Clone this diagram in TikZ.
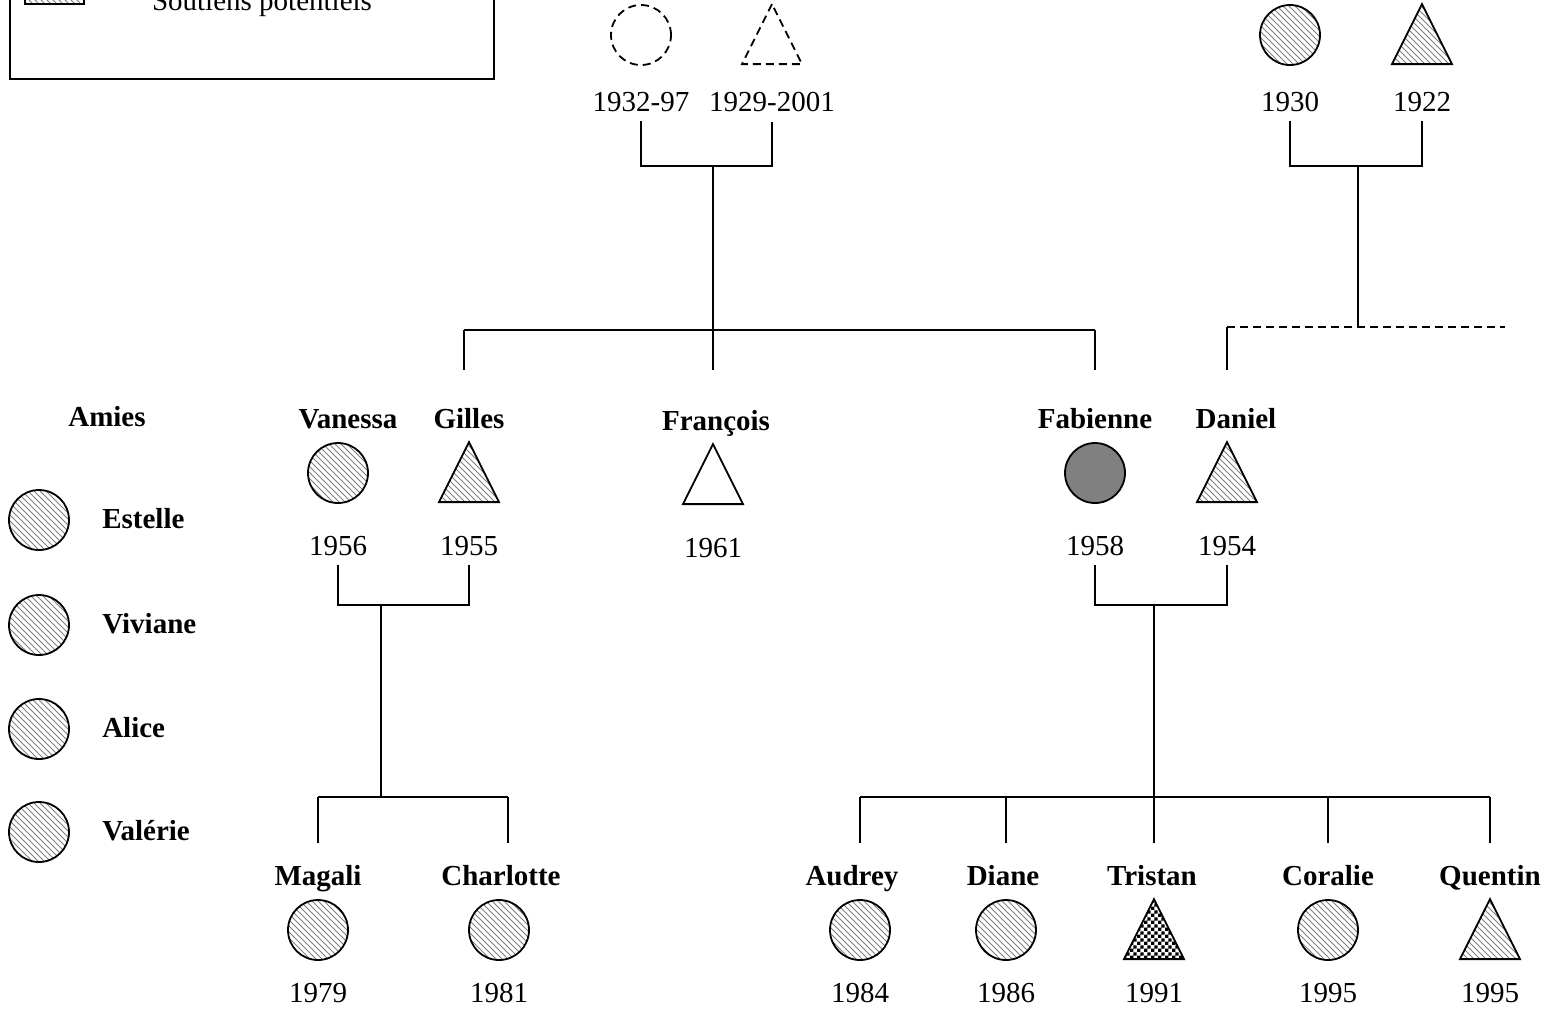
\documentclass[tikz,border=0pt]{standalone}
\usepackage{fontspec}
\setmainfont{Liberation Serif}
\usetikzlibrary{shapes.geometric,patterns,positioning}
\pgfdeclarepatternformonly{damier}{\pgfqpoint{0pt}{0pt}}{\pgfqpoint{3.6pt}{3.6pt}}{\pgfqpoint{3.6pt}{3.6pt}}{%
  \pgfpathrectangle{\pgfqpoint{0pt}{0pt}}{\pgfqpoint{1.8pt}{1.8pt}}%
  \pgfpathrectangle{\pgfqpoint{1.8pt}{1.8pt}}{\pgfqpoint{1.8pt}{1.8pt}}%
  \pgfusepath{fill}}

\begin{document}
\begin{tikzpicture}[x=0.5pt, y=-0.5pt, font=\fontsize{14.5}{17}\selectfont,
    femme/.style={circle, draw, line width=0.9pt, minimum size=30pt, inner sep=0pt},
    homme/.style={isosceles triangle, isosceles triangle stretches, shape border rotate=90,
        draw, line width=0.9pt, minimum width=30pt, minimum height=30pt, inner sep=0pt, anchor=south},
    soutien/.style={pattern=north west lines, pattern color=gray},
    decede/.style={dash pattern=on 4pt off 2.5pt},
    nom/.style={font=\fontsize{14.5}{17}\selectfont\bfseries, inner sep=0pt, text depth=0.25ex},
    annee/.style={inner sep=0pt, outer sep=5pt},
    lien/.style={line width=0.9pt}
]
    \useasboundingbox (0,0) rectangle (1544,1009);
    \clip (0,0) rectangle (1544,1009);

    % legende
    \draw[lien] (10,-60) rectangle (494,79);
    \draw[lien, soutien] (25,-30) rectangle (84,4);
    \node[anchor=base] (leg) at (262,10) {Soutiens potentiels};

    % grands-parents
    \node[femme, decede] (gm1) at (641,35) {};
    \node[homme, decede] (gp1) at (772,65) {};
    \node[annee, below=8pt of gm1] (gm1-an) {1932-97};
    \node[annee, below=8.5pt of gp1] (gp1-an) {1929-2001};
    \node[femme, soutien] (gm2) at (1290,35) {};
    \node[homme, soutien] (gp2) at (1422,65) {};
    \node[annee, below=8pt of gm2] (gm2-an) {1930};
    \node[annee, below=8.5pt of gp2] (gp2-an) {1922};

    \coordinate (u1) at (713,166);
    \coordinate (f1) at (713,330);
    \coordinate (u2) at (1358,166);
    \coordinate (f2) at (1358,327);
    \draw[lien] (gm1-an.south) -- (gm1-an.south |- u1) -| (gp1-an.south);
    \draw[lien] (gm2-an.south) -- (gm2-an.south |- u2) -| (gp2-an.south);
    \draw[lien] (u1) -- (f1);
    \draw[lien] (u2) -- (f2);

    % fratrie
    \coordinate (f1g) at (464,330);
    \coordinate (f1d) at (1095,330);
    \coordinate (f2g) at (1227,327);
    \coordinate (f2d) at (1505,327);
    \draw[lien] (f1g) -- (f1d);
    \draw[lien, dashed, dash pattern=on 4pt off 2.5pt] (f2g) -- (f2d);
    \draw[lien] (f1g) -- ++(0,40);
    \draw[lien] (f1) -- ++(0,40);
    \draw[lien] (f1d) -- ++(0,40);
    \draw[lien] (f2g) -- ++(0,43);

    % parents
    \node[femme, soutien] (vanessa) at (338,473) {};
    \node[homme, soutien] (gilles) at (469,503) {};
    \node[homme] (francois) at (713,505) {};
    \node[femme, fill=gray] (fabienne) at (1095,473) {};
    \node[homme, soutien] (daniel) at (1227,503) {};

    \node[nom, above=5.5pt of vanessa, xshift=5pt] {Vanessa};
    \node[nom, above=4.5pt of gilles] {Gilles};
    \node[nom, above=4.5pt of francois, xshift=1.5pt] {François};
    \node[nom, above=5.5pt of fabienne] {Fabienne};
    \node[nom, above=4.5pt of daniel, xshift=4.5pt] {Daniel};

    \node[annee, below=11pt of vanessa] (vanessa-an) {1956};
    \node[annee, below=11.5pt of gilles] (gilles-an) {1955};
    \node[annee, below=11.5pt of francois] (francois-an) {1961};
    \node[annee, below=11pt of fabienne] (fabienne-an) {1958};
    \node[annee, below=11.5pt of daniel] (daniel-an) {1954};

    \coordinate (u3) at (381,605);
    \coordinate (f3) at (381,797);
    \coordinate (u4) at (1154,605);
    \coordinate (f4) at (1154,797);
    \draw[lien] (vanessa-an.south) -- (vanessa-an.south |- u3) -| (gilles-an.south);
    \draw[lien] (fabienne-an.south) -- (fabienne-an.south |- u4) -| (daniel-an.south);
    \draw[lien] (u3) -- (f3);
    \draw[lien] (u4) -- (f4);

    % enfants
    \coordinate (f3g) at (318,797);
    \coordinate (f3d) at (508,797);
    \coordinate (f4g) at (860,797);
    \coordinate (f4d) at (1490,797);
    \draw[lien] (f3g) -- (f3d);
    \draw[lien] (f4g) -- (f4d);
    \foreach \x in {318,508,860,1006,1154,1328,1490}
        \draw[lien] (\x,797) -- ++(0,46);

    \node[femme, soutien] (magali) at (318,930) {};
    \node[femme, soutien] (charlotte) at (499,930) {};
    \node[femme, soutien] (audrey) at (860,930) {};
    \node[femme, soutien] (diane) at (1006,930) {};
    \node[homme, pattern=damier] (tristan) at (1154,960) {};
    \node[femme, soutien] (coralie) at (1328,930) {};
    \node[homme, soutien] (quentin) at (1490,960) {};

    \node[nom, above=5.5pt of magali] {Magali};
    \node[nom, above=5.5pt of charlotte, xshift=1pt] {Charlotte};
    \node[nom, above=5.5pt of audrey, xshift=-4pt] {Audrey};
    \node[nom, above=5.5pt of diane, xshift=-1.5pt] {Diane};
    \node[nom, above=4.5pt of tristan, xshift=-1pt] {Tristan};
    \node[nom, above=5.5pt of coralie] {Coralie};
    \node[nom, above=4.5pt of quentin] {Quentin};

    \node[annee, below=6pt of magali] {1979};
    \node[annee, below=6pt of charlotte] {1981};
    \node[annee, below=6pt of audrey] {1984};
    \node[annee, below=6pt of diane] {1986};
    \node[annee, below=6.5pt of tristan] {1991};
    \node[annee, below=6pt of coralie] {1995};
    \node[annee, below=6.5pt of quentin] {1995};

    % amies
    \node[nom] (amies) at (107,418) {Amies};
    \node[femme, soutien] (estelle) at (39,520) {};
    \node[femme, soutien] (viviane) at (39,625) {};
    \node[femme, soutien] (alice) at (39,729) {};
    \node[femme, soutien] (valerie) at (39,832) {};
    \node[nom, right=16pt of estelle] {Estelle};
    \node[nom, right=16pt of viviane] {Viviane};
    \node[nom, right=16pt of alice] {Alice};
    \node[nom, right=16pt of valerie] {Valérie};
\end{tikzpicture}
\end{document}
